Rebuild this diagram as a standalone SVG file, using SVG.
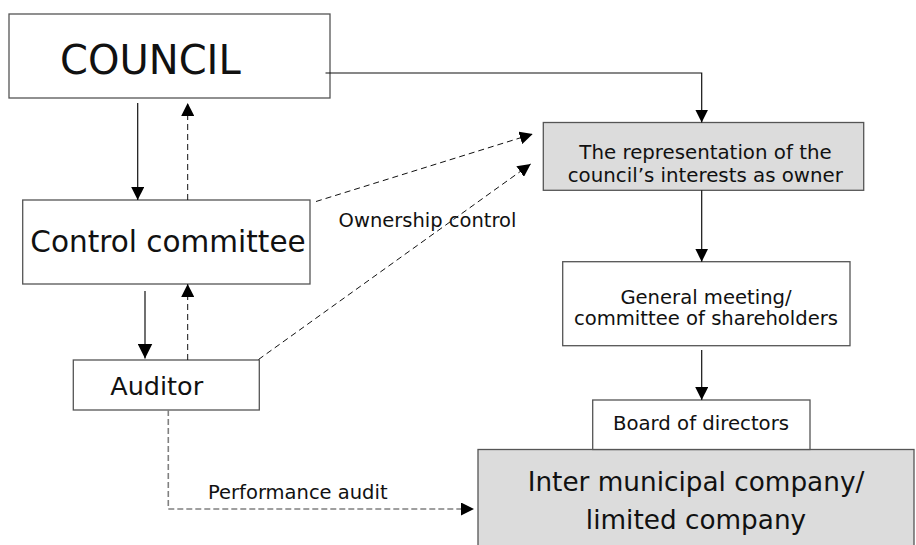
<svg xmlns="http://www.w3.org/2000/svg" width="916" height="545" viewBox="0 0 916 545">
  <style>
    .box { fill: #ffffff; stroke: #555555; stroke-width: 1.3; }
    .grey { fill: #dcdcdc; stroke: #555555; stroke-width: 1.3; }
    text { font-family: "DejaVu Sans", "Liberation Sans", sans-serif; fill: #111111; text-anchor: middle; }
    .solid { fill: none; stroke: #111111; stroke-width: 1.2; }
    .dash { fill: none; stroke: #111111; stroke-width: 1; stroke-dasharray: 6 4; }
    .gdash { fill: none; stroke: #808080; stroke-width: 1.6; stroke-dasharray: 6 3; }
  </style>
  <defs>
    <marker id="ah" markerUnits="userSpaceOnUse" markerWidth="13" markerHeight="13" viewBox="0 0 13 13" refX="13" refY="6.5" orient="auto">
      <path d="M0,0 L13,6.5 L0,13 Z" fill="#000000"/>
    </marker>
    <marker id="ahb" markerUnits="userSpaceOnUse" markerWidth="15" markerHeight="15" viewBox="0 0 15 15" refX="15" refY="7.5" orient="auto">
      <path d="M0,0 L15,7.5 L0,15 Z" fill="#000000"/>
    </marker>
  </defs>

  <g id="inter">
    <rect class="grey" x="478" y="449.5" width="436" height="110"/>
    <text x="696" y="490.7" font-size="26.3">Inter municipal company/</text>
    <text x="696" y="529.3" font-size="26.3">limited company</text>
  </g>

  <g id="council">
    <rect class="box" x="9" y="14" width="321" height="84"/>
    <text x="150.4" y="74" font-size="40">COUNCIL</text>
  </g>

  <g id="control-committee">
    <rect class="box" x="22.7" y="200" width="287.3" height="84"/>
    <text x="168" y="251.7" font-size="29.5">Control committee</text>
  </g>

  <g id="auditor">
    <rect class="box" x="73.3" y="360" width="186" height="50"/>
    <text x="156.7" y="395" font-size="25.5">Auditor</text>
  </g>

  <g id="representation">
    <rect class="grey" x="543.3" y="122.5" width="320.4" height="67.8"/>
    <text x="705.5" y="159.3" font-size="19.8">The representation of the</text>
    <text x="705.3" y="181.7" font-size="19.8">council’s interests as owner</text>
  </g>

  <g id="general-meeting">
    <rect class="box" x="562.7" y="261.7" width="287.3" height="84"/>
    <text x="706" y="304" font-size="19.6">General meeting/</text>
    <text x="706" y="325" font-size="19.6">committee of shareholders</text>
  </g>

  <g id="board">
    <rect class="box" x="592.7" y="400" width="217.3" height="49.5"/>
    <text x="701" y="430" font-size="19.7">Board of directors</text>
  </g>

  <g id="labels">
    <text x="427.5" y="227.3" font-size="19.5">Ownership control</text>
    <text x="297.8" y="499" font-size="19.5" fill="#222222">Performance audit</text>
  </g>

  <g id="connectors">
    <line class="solid" x1="137.7" y1="103" x2="137.7" y2="200" stroke="#666666" marker-end="url(#ah)"/>
    <line class="dash" x1="187.7" y1="200" x2="187.7" y2="103" marker-end="url(#ah)"/>
    <line class="solid" x1="145" y1="291" x2="145" y2="358.5" stroke-width="2" marker-end="url(#ahb)"/>
    <line class="dash" x1="187.7" y1="360" x2="187.7" y2="284" marker-end="url(#ah)"/>
    <polyline class="solid" points="325.5,73 701.7,73 701.7,122.5" marker-end="url(#ah)"/>
    <line class="dash" x1="316" y1="201.5" x2="532.7" y2="134" stroke-dasharray="7 3" marker-end="url(#ah)"/>
    <line class="dash" x1="258.5" y1="359.5" x2="530.7" y2="164" stroke-dasharray="5 3" marker-end="url(#ah)"/>
    <line class="solid" x1="701.7" y1="190.3" x2="701.7" y2="261.7" marker-end="url(#ah)"/>
    <line class="solid" x1="701.7" y1="350" x2="701.7" y2="400" marker-end="url(#ah)"/>
    <polyline class="gdash" points="168.3,410 168.3,509 474,509" marker-end="url(#ah)"/>
  </g>
</svg>
